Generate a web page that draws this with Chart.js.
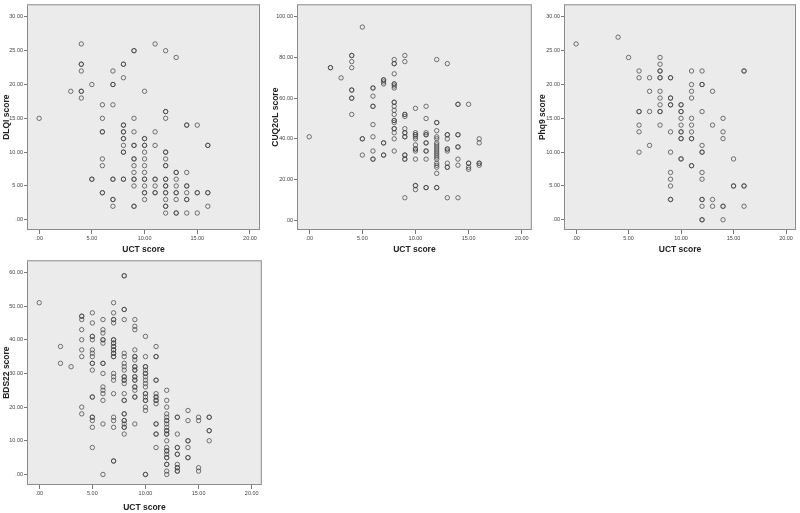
<!DOCTYPE html>
<html>
<head>
<meta charset="utf-8">
<script src="https://cdn.jsdelivr.net/npm/chart.js@4.4.1/dist/chart.umd.min.js"></script>
<style>
  body { margin: 0; background: #fff; width: 800px; height: 513px; position: relative; overflow: hidden; }
  .panel { position: absolute; }
</style>
</head>
<body>
<div class="panel" style="left:0;top:0;width:265px;height:256px"><canvas id="dlqiChart"></canvas></div>
<div class="panel" style="left:265px;top:0;width:270px;height:256px"><canvas id="cuqChart"></canvas></div>
<div class="panel" style="left:535px;top:0;width:265px;height:256px"><canvas id="phqChart"></canvas></div>
<div class="panel" style="left:0;top:256px;width:265px;height:257px"><canvas id="bdsChart"></canvas></div>
<script>
// UCT score on the x axis (0..16); for each UCT value, the list of scores seen
const uctScores = [0, 1, 2, 3, 4, 5, 6, 7, 8, 9, 10, 11, 12, 13, 14, 15, 16];
const xTicks = [0, 5, 10, 15, 20];

const dlqiScores = [
    [15], [], [], [19],
    [26, 23, 23, 22, 19, 19, 18],
    [20, 6, 6],
    [17, 15, 13, 13, 9, 8, 4, 4],
    [22, 20, 20, 17, 6, 6, 3, 3, 2],
    [23, 23, 21, 14, 14, 13, 13, 12, 12, 11, 10, 10, 6, 6],
    [25, 25, 15, 13, 11, 11, 9, 9, 8, 7, 6, 6, 5, 2, 2],
    [19, 12, 12, 11, 11, 10, 9, 8, 7, 6, 6, 5, 4, 4, 3],
    [26, 13, 11, 6, 6, 5, 4, 4],
    [25, 16, 16, 15, 10, 10, 9, 8, 8, 6, 6, 5, 5, 4, 4, 3, 2, 2, 1],
    [24, 7, 7, 6, 5, 4, 4, 3, 1, 1],
    [14, 14, 7, 5, 5, 4, 3, 3, 1],
    [14, 4, 4, 1],
    [11, 11, 4, 4, 2]
];
const dlqiTicks = [0, 5, 10, 15, 20, 25, 30];

const cuqScores = [
    [41], [],
    [75, 75],
    [70],
    [81, 81, 78, 75, 64, 64, 60, 60, 52],
    [95, 40, 40, 32],
    [65, 65, 61, 56, 56, 47, 41, 34, 30, 30],
    [69, 69, 68, 67, 38, 38, 32, 32],
    [79, 77, 77, 72, 67, 67, 66, 65, 58, 58, 56, 54, 52, 49, 49, 48, 45, 45, 43, 40, 34],
    [81, 78, 52, 52, 51, 45, 43, 43, 41, 41, 32, 32, 30, 30, 11],
    [55, 43, 42, 42, 41, 40, 37, 35, 35, 34, 30, 17, 17, 15],
    [56, 50, 43, 42, 42, 38, 38, 34, 34, 30, 16, 16],
    [79, 48, 48, 44, 41, 40, 38, 37, 36, 35, 34, 33, 32, 31, 30, 28, 27, 26, 23, 16, 16],
    [77, 42, 42, 40, 35, 35, 34, 28, 26, 26, 11],
    [57, 57, 42, 42, 36, 36, 30, 27, 11],
    [57, 28, 28, 26, 25],
    [40, 38, 28, 28, 27]
];
const cuqTicks = [0, 20, 40, 60, 80, 100];

const phqScores = [
    [26], [], [], [],
    [27],
    [24],
    [22, 21, 16, 16, 14, 13, 10],
    [21, 19, 16, 11],
    [24, 23, 22, 22, 21, 21, 19, 18, 17, 16, 16, 14],
    [21, 21, 18, 18, 17, 17, 13, 10, 7, 6, 5, 3, 3],
    [17, 17, 16, 16, 15, 14, 13, 13, 12, 12, 9, 9],
    [22, 20, 19, 18, 15, 14, 13, 12, 12, 8, 8],
    [22, 20, 20, 16, 11, 10, 10, 7, 6, 3, 3, 2, 0, 0],
    [19, 14, 3, 2],
    [15, 13, 12, 2, 2, 0],
    [9, 5, 5],
    [22, 22, 5, 5, 2]
];
const phqTicks = [0, 5, 10, 15, 20, 25, 30];

const bdsScores = [
    [51], [],
    [38, 33],
    [32],
    [47, 47, 46, 43, 40, 37, 35, 20, 18],
    [48, 45, 41, 41, 40, 37, 36, 35, 33, 33, 31, 23, 23, 17, 17, 16, 14, 8],
    [46, 43, 42, 40, 40, 39, 33, 33, 30, 26, 25, 24, 22, 15, 0],
    [51, 48, 46, 46, 45, 40, 40, 39, 39, 38, 38, 37, 37, 36, 36, 35, 35, 30, 29, 28, 24, 17, 16, 14, 4, 4],
    [59, 59, 49, 49, 46, 36, 35, 33, 32, 31, 29, 29, 28, 28, 27, 24, 22, 22, 18, 18, 16, 16, 15, 14, 14, 12],
    [46, 44, 43, 37, 35, 35, 34, 32, 32, 31, 31, 29, 29, 28, 28, 26, 26, 25, 23, 23, 15],
    [41, 35, 32, 32, 31, 30, 30, 29, 28, 27, 26, 24, 24, 23, 22, 22, 20, 19, 0, 0],
    [38, 35, 35, 28, 28, 24, 23, 23, 22, 22, 21, 15, 15, 12, 12, 8],
    [25, 22, 20, 18, 17, 16, 16, 15, 14, 13, 13, 12, 12, 10, 8, 7, 7, 6, 5, 5, 3, 3, 1, 0],
    [17, 17, 12, 8, 8, 6, 6, 3, 2, 2, 1, 1],
    [19, 16, 10, 10, 8, 5, 5],
    [17, 16, 2, 1],
    [17, 17, 13, 13, 10]
];
const bdsTicks = [0, 10, 20, 30, 40, 50, 60];

// grey plot area with a frame, like the SPSS output
const plotFrame = {
    id: 'plotFrame',
    beforeDraw(chart) {
        const a = chart.chartArea;
        const ctx = chart.ctx;
        ctx.save();
        ctx.fillStyle = '#ebebeb';
        ctx.fillRect(a.left, a.top, a.right - a.left, a.bottom - a.top);
        ctx.strokeStyle = '#8c8c8c';
        ctx.lineWidth = 1;
        ctx.strokeRect(a.left + 0.5, a.top + 0.5, a.right - a.left - 1, a.bottom - a.top - 1);
        ctx.restore();
    }
};

function fmt(v) {
    return v === 0 ? '.00' : v.toFixed(2);
}

function toPoints(scores) {
    const pts = [];
    uctScores.forEach((u, i) => {
        (scores[i] || []).forEach(s => pts.push({ x: u, y: s }));
    });
    return pts;
}

function makeScatter(id, scores, yTicks, yTitle, opts) {
    const ctx = document.getElementById(id).getContext('2d');
    return new Chart(ctx, {
        type: 'scatter',
        data: {
            datasets: [{
                data: toPoints(scores),
                pointRadius: 2.2,
                pointHoverRadius: 2.2,
                borderWidth: 1,
                borderColor: 'rgba(65, 65, 65, 0.72)',
                backgroundColor: 'rgba(0, 0, 0, 0)'
            }]
        },
        options: {
            responsive: true,
            maintainAspectRatio: false,
            animation: false,
            layout: { padding: { left: 0, top: opts.top, right: opts.right, bottom: 0 } },
            plugins: { legend: { display: false }, tooltip: { enabled: false } },
            scales: {
                x: {
                    type: 'linear',
                    min: -1.15,
                    max: 20.95,
                    afterBuildTicks: s => { s.ticks = xTicks.map(v => ({ value: v })); },
                    afterFit: s => { s.height = opts.xHeight; },
                    grid: { drawOnChartArea: false, tickLength: 4, color: '#777' },
                    border: { display: false },
                    ticks: {
                        callback: v => fmt(v),
                        font: { family: 'Liberation Sans', size: 5.5 },
                        color: '#444',
                        padding: 1,
                        maxRotation: 0
                    },
                    title: {
                        display: true,
                        text: 'UCT score',
                        font: { family: 'Liberation Sans', size: 8.5, weight: 'bold' },
                        color: '#222',
                        padding: { top: 0, bottom: opts.xTitlePad }
                    }
                },
                y: {
                    type: 'linear',
                    min: opts.yMin,
                    max: opts.yMax,
                    afterBuildTicks: s => { s.ticks = yTicks.map(v => ({ value: v })); },
                    afterFit: s => { s.width = opts.yWidth; },
                    grid: { drawOnChartArea: false, tickLength: 3, color: '#777' },
                    border: { display: false },
                    ticks: {
                        callback: v => fmt(v),
                        font: { family: 'Liberation Sans', size: 5.5 },
                        color: '#444',
                        padding: 1
                    },
                    title: {
                        display: true,
                        text: yTitle,
                        font: { family: 'Liberation Sans', size: 8.5, weight: 'bold' },
                        color: '#222',
                        padding: { top: opts.yTitlePad, bottom: 0 }
                    }
                }
            }
        },
        plugins: [plotFrame]
    });
}

window.onload = function() {
    makeScatter('dlqiChart', dlqiScores, dlqiTicks, 'DLQI score',
        { top: 2, right: 5, xHeight: 26, yWidth: 27, yMin: -1.51, yMax: 31.86, xTitlePad: 1.6, yTitlePad: 2 });
    makeScatter('cuqChart', cuqScores, cuqTicks, 'CUQ2oL score',
        { top: 2, right: 3, xHeight: 26, yWidth: 32, yMin: -4.87, yMax: 106.2, xTitlePad: 1.6, yTitlePad: 6 });
    makeScatter('phqChart', phqScores, phqTicks, 'Phq9 score',
        { top: 2, right: 4, xHeight: 26, yWidth: 29, yMin: -1.51, yMax: 31.86, xTitlePad: 1.6, yTitlePad: 3 });
    makeScatter('bdsChart', bdsScores, bdsTicks, 'BDS22 score',
        { top: 1, right: 2, xHeight: 28, yWidth: 27, yMin: -3.13, yMax: 63.6, xTitlePad: 0.6, yTitlePad: 2 });
};
</script>
</body>
</html>
